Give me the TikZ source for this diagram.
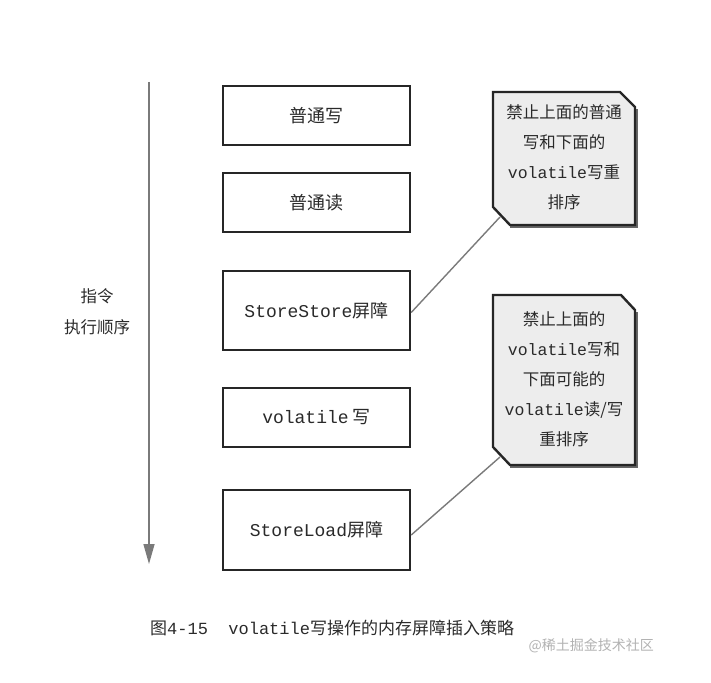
\documentclass[tikz,border=0pt]{standalone}
\usepackage{fontspec}
\setmainfont{Noto Sans CJK SC}
\newfontfamily\mono{Liberation Mono}
\usetikzlibrary{arrows.meta}
\definecolor{txt}{HTML}{2A2A2A}
\definecolor{linegrey}{HTML}{7A7A7A}
\definecolor{callfill}{HTML}{EDEDED}
\tikzset{
  opbox/.style={draw=black!85, line width=2.4pt, fill=white, minimum width=187pt, inner sep=0pt, text=txt, font=\fontsize{18}{21}\selectfont},
  calltext/.style={align=center, text=txt, font=\fontsize{16.5}{30}\selectfont, inner sep=0pt},
  callshape/.style={draw=black!85, line width=2.4pt, fill=callfill, line join=miter},
  callshadow/.style={draw=black!60, line width=2.4pt, line join=miter},
  leader/.style={draw=linegrey, line width=1.4pt},
}
\begin{document}
\begin{tikzpicture}[x=1pt,y=-1pt]
\useasboundingbox (0,0) rectangle (711,682);
% time arrow
\coordinate (atop) at (149,82);
\coordinate (abot) at (149,564);
\draw[draw=linegrey, line width=1.5pt, -{Triangle[width=11pt,length=20pt]}] (atop) -- (abot);
\node[align=center, text=txt, font=\fontsize{16.5}{31}\selectfont, inner sep=0pt] (order) at (97,312) {指令\\执行顺序};
% operation boxes
\node[opbox, minimum height=59pt] (b1) at (316.5,115.5) {普通写};
\node[opbox, minimum height=59pt] (b2) at (316.5,202.5) {普通读};
\node[opbox, minimum height=79pt] (b3) at (316.5,310.5) {{\mono StoreStore}屏障};
\node[opbox, minimum height=59pt] (b4) at (316.5,417.5) {{\mono volatile} 写};
\node[opbox, minimum height=80pt] (b5) at (316.5,530) {{\mono StoreLoad}屏障};
% callout 1
\draw[callshadow] (637,109) -- (637,227) -- (510,227);
\path[callshape] (493,92) -- (620,92) -- (635,107) -- (635,225) -- (510,225) -- (493,207) -- cycle;
\coordinate (c1tip) at (500,217);
\node[calltext] (c1) at (564,157) {禁止上面的普通\\写和下面的\\{\mono volatile}写重\\排序};
% callout 2
\draw[callshadow] (637,312) -- (637,467) -- (510,467);
\path[callshape] (493,295) -- (621,295) -- (635,310) -- (635,465) -- (510,465) -- (493,447) -- cycle;
\coordinate (c2tip) at (500,457);
\node[calltext] (c2) at (564,379) {禁止上面的\\{\mono volatile}写和\\下面可能的\\{\mono volatile}读/写\\重排序};
% leaders
\draw[leader] ([yshift=-2pt]b3.east) -- (c1tip);
\draw[leader] ([yshift=-5pt]b5.east) -- (c2tip);
% caption
\node[anchor=west, text=txt, font=\fontsize{17}{20}\selectfont, inner sep=0pt] (cap) at (150,628) {图{\mono 4-15\ \ volatile}写操作的内存屏障插入策略};
\node[anchor=east, text=black!30, font=\fontsize{14}{16}\selectfont, inner sep=0pt] (wm) at (654,646) {@稀土掘金技术社区};
\end{tikzpicture}
\end{document}
